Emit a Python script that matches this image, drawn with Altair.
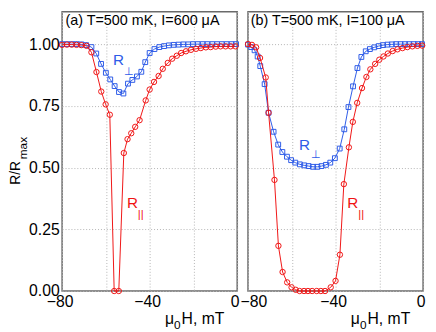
import altair as alt
import pandas as pd

# ---------------- data ----------------
x_ticks = [-80, -60, -40, -20, 0]
y_ticks = [0.0, 0.25, 0.5, 0.75, 1.0]
panel_titles = ["(a) T=500 mK, I=600 \u03bcA", "(b) T=500 mK, I=100 \u03bcA"]

# panel (a): T=500 mK, I=600 uA
a_perp_x = [-80, -77.8, -75.6, -73.4, -71.2, -69.0, -66.6, -64.4, -62.2, -60.0,
            -58.0, -56.0, -54.0, -52.0, -49.9, -47.9, -45.8, -43.8, -42.0, -40.0,
            -37.8, -35.6, -33.4, -31.2, -29.0, -26.8, -24.6, -22.4, -20.2, -18.0,
            -15.8, -13.6, -11.4, -9.2, -7.0, -4.8, -2.6, -0.5]
a_perp_y = [1.000, 1.000, 1.000, 1.000, 0.999, 0.996, 0.988, 0.962, 0.920, 0.884,
            0.857, 0.830, 0.806, 0.800, 0.840, 0.855, 0.869, 0.888, 0.927, 0.964,
            0.980, 0.988, 0.992, 0.995, 0.997, 0.998, 0.999, 0.999, 1.000, 1.000,
            1.000, 1.000, 1.000, 1.000, 1.000, 1.000, 1.000, 1.000]
a_par_x = [-80, -77.8, -75.6, -73.4, -71.2, -68.8, -66.6, -64.3, -62.1, -60.1,
           -58.2, -56.2, -54.1, -51.8, -50.1, -48.4, -46.6, -44.6, -41.8, -40.0,
           -38.0, -35.9, -34.0, -31.7, -29.7, -27.6, -25.6, -23.4, -21.1, -18.8,
           -16.6, -14.3, -12.1, -9.8, -7.6, -5.3, -3.0, -0.8]
a_par_y = [0.997, 0.998, 0.998, 0.997, 0.996, 0.993, 0.967, 0.887, 0.808, 0.756,
           0.714, 0.0, 0.0, 0.559, 0.615, 0.639, 0.665, 0.692, 0.772, 0.816,
           0.847, 0.871, 0.900, 0.924, 0.941, 0.953, 0.964, 0.971, 0.977, 0.981,
           0.984, 0.987, 0.988, 0.990, 0.991, 0.991, 0.991, 0.991]

# panel (b): T=500 mK, I=100 uA
b_perp_x = [-80, -78.5, -77.0, -75.6, -74.4, -72.4, -70.6, -68.3, -66.2, -64.3,
            -62.2, -60.3, -58.4, -56.3, -54.3, -52.3, -50.3, -48.3, -46.4, -44.4,
            -42.4, -40.3, -38.1, -36.0, -34.1, -32.0, -30.0, -28.2, -26.2, -24.3,
            -22.3, -20.3, -18.3, -16.3, -14.3, -12.3, -10.3, -8.3, -6.3, -4.3,
            -2.3, -0.5]
b_perp_y = [0.998, 0.988, 0.975, 0.950, 0.911, 0.838, 0.722, 0.645, 0.593, 0.563,
            0.544, 0.530, 0.520, 0.513, 0.509, 0.506, 0.503, 0.503, 0.506, 0.511,
            0.520, 0.538, 0.577, 0.655, 0.745, 0.829, 0.903, 0.948, 0.971, 0.980,
            0.987, 0.992, 0.996, 0.998, 0.999, 1.000, 1.000, 1.000, 1.000, 1.000,
            1.000, 1.000]
b_par_x = [-80, -78.2, -76.3, -74.5, -71.9, -70.6, -67.9, -66.1, -64.2, -62.1,
           -60.1, -58.2, -56.4, -54.4, -52.6, -50.7, -48.6, -46.7, -44.8, -42.2,
           -40.0, -38.0, -36.2, -33.9, -32.1, -30.1, -27.9, -25.9, -24.1, -21.9,
           -20.0, -18.1, -16.1, -13.9, -11.7, -9.4, -7.2, -4.9, -2.6, -0.4]
b_par_y = [1.000, 0.997, 0.987, 0.944, 0.865, 0.722, 0.450, 0.183, 0.077, 0.035,
           0.015, 0.005, 0.0, 0.0, 0.0, 0.0, 0.0, 0.0, 0.0, 0.015,
           0.041, 0.147, 0.433, 0.582, 0.685, 0.762, 0.822, 0.867, 0.898, 0.920,
           0.937, 0.950, 0.962, 0.972, 0.979, 0.984, 0.988, 0.991, 0.993, 0.994]

# annotation anchors (data coordinates): [R, subscript]
a_perp_lab = [(-56.75, 0.916), (-51.8, 0.876)]
a_par_lab = [(-50.4, 0.335), (-45.4, 0.297)]
b_perp_lab = [(-56.7, 0.573), (-51.2, 0.538)]
b_par_lab = [(-34.6, 0.335), (-29.6, 0.297)]
title_pos = [(-78.5, 1.078), (-78.8, 1.078)]

# ---------------- styling ----------------
BLUE = "#2d5be8"
RED = "#f01414"
FONT = "Liberation Sans"
H = 284
YMAX = 1.1315
ONE = pd.DataFrame({"k": [0]})


def panel(px, py, rx, ry, title, tpos, perp_lab, par_lab, width, first):
    xscale = alt.Scale(domain=[-80, 0], nice=False, zero=False)
    yscale = alt.Scale(domain=[0, YMAX], nice=False, zero=False)
    xaxis = alt.Axis(values=x_ticks, grid=True, gridDash=[1, 2], gridColor="#b4b4b4",
                     domain=False, ticks=False, tickSize=0, labelFont=FONT,
                     labelFontSize=16, labelColor="black", labelPadding=3,
                     labelFlush=False, labelOverlap=False,
                     labelExpr="datum.value % 40 === 0 ? datum.label : ''",
                     labelOffset=({"condition": {"test": "datum.value == -80", "value": 5.5}, "value": -2.5}
                                  if not first else -2.5),
                     title=None)
    yaxis = alt.Axis(values=y_ticks, grid=True, gridDash=[1, 2], gridColor="#b4b4b4",
                     domain=False, ticks=False, tickSize=0, labelFont=FONT,
                     labelFontSize=16, labelColor="black", labelPadding=3,
                     labelFlush=False, labelOverlap=False,
                     format=".2f", labels=first, title=None)
    X = alt.X("x:Q", scale=xscale, axis=xaxis)
    Y = alt.Y("y:Q", scale=yscale, axis=yaxis)

    perp = pd.DataFrame({"x": px, "y": py})
    par = pd.DataFrame({"x": rx, "y": ry})

    layers = [
        alt.Chart(perp).mark_line(color=BLUE, strokeWidth=1).encode(x=X, y=Y),
        alt.Chart(perp).mark_point(shape="square", filled=False, size=24, color=BLUE,
                                   strokeWidth=1, opacity=1).encode(x=X, y=Y),
        alt.Chart(par).mark_line(color=RED, strokeWidth=1).encode(x=X, y=Y),
        alt.Chart(par).mark_point(shape="circle", filled=False, size=30, color=RED,
                                  strokeWidth=1, opacity=1).encode(x=X, y=Y),
    ]

    def dtext(txt, pos, size, color):
        return alt.Chart(ONE).mark_text(text=txt, font=FONT, fontSize=size, color=color,
                                        align="left", baseline="alphabetic").encode(
            x=alt.datum(pos[0]), y=alt.datum(pos[1]))

    layers += [
        dtext(title, tpos, 14.6, "black"),
        dtext("R", perp_lab[0], 15.5, BLUE),
        dtext("\u22a5", perp_lab[1], 11, BLUE),
        dtext("R", par_lab[0], 15.5, RED),
        dtext("||", par_lab[1], 11.5, RED),
    ]

    def ptext(txt, x, y, size, angle=0):
        kw = dict(text=txt, font=FONT, fontSize=size, color="black",
                  align="left", baseline="alphabetic")
        if angle:
            kw["angle"] = angle
        return alt.Chart(ONE).mark_text(**kw).encode(x=alt.value(x), y=alt.value(y))

    # x-axis title  mu_0 H, mT  (anchored from the right edge)
    mx = width - 73.5
    layers += [
        ptext("\u03bc", mx, 317.7, 16),
        ptext("0", mx + 9.3, 322.7, 12),
        ptext("H, mT", mx + 17, 317.7, 16),
    ]
    if first:
        layers += [
            ptext("R/R", -42.8, 176, 14, angle=270),
            ptext("max", -35.3, 150, 12, angle=270),
        ]
    return alt.layer(*layers).properties(width=width, height=H)


pa = panel(a_perp_x, a_perp_y, a_par_x, a_par_y, panel_titles[0], title_pos[0],
           a_perp_lab, a_par_lab, 178, True)
pb = panel(b_perp_x, b_perp_y, b_par_x, b_par_y, panel_titles[1], title_pos[1],
           b_perp_lab, b_par_lab, 178, False)

chart = alt.hconcat(pa, pb, spacing=11, bounds="flush").properties(
    padding=0
).configure_view(stroke="#6a6a6a", strokeWidth=1.5).resolve_scale(x="independent", y="independent")

chart.save("out.html", embed_options={"renderer": "svg", "actions": False})
